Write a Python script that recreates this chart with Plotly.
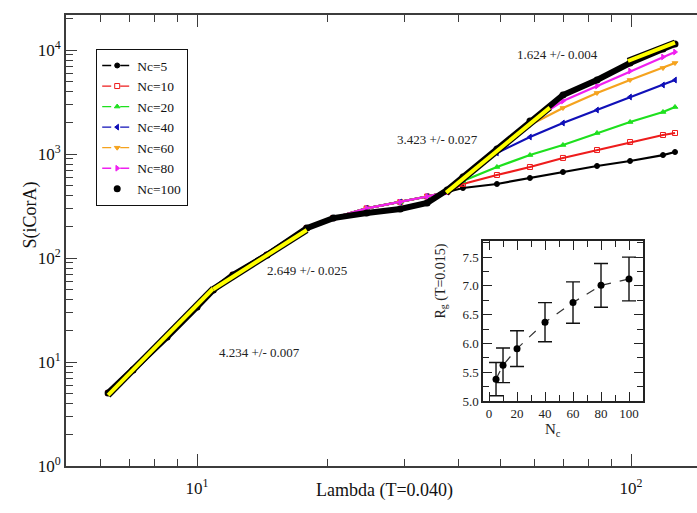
import numpy as np
import plotly.graph_objects as go

# ---------------- S(iCorA) versus Lambda at T = 0.040 ----------------
# Low-Lambda branch shared by every chain count
trunk_lambda = [6.24, 7.12, 8.53, 10.0, 10.9, 12.1, 14.5, 17.9, 20.6]
trunk_s = [5.03, 8.38, 17.4, 33.8, 49.3, 68.7, 107, 194, 242]

# Intermediate plateau (Nc = 5 ... 80 and Nc = 100)
plateau_lambda = [24.6, 29.4, 33.9, 37.7]
plateau_s = [300, 345, 390, 431]
plateau_s_nc100 = [271, 296, 338, 451]

# High-Lambda branches, one per chain count
tail_lambda = [41.0, 49.1, 58.5, 69.7, 83.5, 99.5, 118.5, 126.3]
tail_s_nc5 = [471, 515, 588, 671, 767, 857, 977, 1045]
tail_s_nc10 = [515, 628, 750, 916, 1092, 1304, 1523, 1592]
tail_s_nc20 = [550, 750, 977, 1221, 1592, 2031, 2535, 2831]
tail_s_nc40 = [575, 1023, 1457, 1986, 2649, 3532, 4608, 5148]
tail_s_nc60 = [588, 1080, 1901, 2770, 3863, 5148, 6714, 7499]
tail_s_nc80 = [601, 1100, 2031, 3235, 4508, 6281, 8570, 9570]
tail_s_nc100 = [601, 1117, 2077, 3690, 5148, 7499, 10230, 11420]

series_names = ["Nc=5", "Nc=10", "Nc=20", "Nc=40", "Nc=60", "Nc=80", "Nc=100"]
series_colors = ["#000000", "#ee1c1c", "#1ee01e", "#1010b8", "#f5a31e", "#f020f0", "#000000"]
series_symbols = ["circle", "square-open", "triangle-up", "triangle-left",
                  "triangle-down", "triangle-right", "circle"]
series_tails = [tail_s_nc5, tail_s_nc10, tail_s_nc20, tail_s_nc40,
                tail_s_nc60, tail_s_nc80, tail_s_nc100]

# Power-law fits: exponent, error, Lambda interval, S at the interval start
fit_slopes = [4.234, 2.649, 3.423, 1.624]
fit_errors = [0.007, 0.025, 0.027, 0.004]
fit_lambda_lo = [6.24, 10.9, 37.5, 98.4]
fit_lambda_hi = [10.9, 17.9, 65.0, 126.3]
fit_s_lo = [4.8, 50.0, 425.0, 7840.0]
fit_label_pos = [(217, 362), (307, 270), (437, 130), (600, 45)]  # pixel centres

# ---------------- Inset: Rg versus Nc at T = 0.015 ----------------
inset_nc = [5, 10, 20, 40, 60, 80, 100]
inset_rg = [5.38, 5.62, 5.91, 6.37, 6.71, 7.01, 7.12]
inset_rg_err = [0.29, 0.30, 0.31, 0.34, 0.36, 0.38, 0.38]

# ---------------- geometry ----------------
W, H = 697, 513
L, R, T, B = 66, 697, 15, 466          # main plot frame in pixels
SERIF = "Liberation Serif"
AXC = "#3c3c3c"


def px(xp):
    return (xp - L) / (R - L)


def py(yp):
    return (B - yp) / (B - T)


fig = go.Figure()

for i, name in enumerate(series_names):
    xs = trunk_lambda + plateau_lambda + tail_lambda
    if name == "Nc=100":
        ys = trunk_s + plateau_s_nc100 + series_tails[i]
        fig.add_trace(go.Scatter(
            x=xs, y=ys, mode="lines+markers", showlegend=False,
            line=dict(color="#000000", width=6),
            marker=dict(symbol="circle", size=7, color="#000000"),
            hoverinfo="skip"))
    else:
        ys = trunk_s + plateau_s + series_tails[i]
        fig.add_trace(go.Scatter(
            x=xs, y=ys, mode="lines+markers", showlegend=False,
            line=dict(color=series_colors[i], width=2.2),
            marker=dict(symbol=series_symbols[i], size=5, color=series_colors[i],
                        line=dict(color=series_colors[i], width=1)),
            hoverinfo="skip"))

# legend entries
for i, name in enumerate(series_names):
    if name == "Nc=100":
        fig.add_trace(go.Scatter(
            x=[None], y=[None], mode="markers", name=name,
            marker=dict(symbol="circle", size=7, color="#000000")))
    else:
        fig.add_trace(go.Scatter(
            x=[None], y=[None], mode="lines+markers", name=name,
            line=dict(color=series_colors[i], width=1.3, dash="dash"),
            marker=dict(symbol=series_symbols[i], size=5, color=series_colors[i],
                        line=dict(color=series_colors[i], width=1))))

# fitted power laws (yellow with black rim)
for k in range(len(fit_slopes)):
    fx = np.array([fit_lambda_lo[k], fit_lambda_hi[k]])
    fy = fit_s_lo[k] * (fx / fit_lambda_lo[k]) ** fit_slopes[k]
    fig.add_trace(go.Scatter(x=fx, y=fy, mode="lines", showlegend=False,
                             line=dict(color="#000000", width=6.5), hoverinfo="skip"))
    fig.add_trace(go.Scatter(x=fx, y=fy, mode="lines", showlegend=False,
                             line=dict(color="#ffff00", width=4), hoverinfo="skip"))
    xp, yp = fit_label_pos[k]
    fig.add_annotation(x=px(xp), y=py(yp), xref="paper", yref="paper",
                       text=f"{fit_slopes[k]:.3f} +/- {fit_errors[k]:.3f}",
                       showarrow=False, font=dict(family=SERIF, size=13, color="#222222"))

# inset
fig.add_trace(go.Scatter(
    x=inset_nc, y=inset_rg, xaxis="x2", yaxis="y2", mode="lines+markers",
    showlegend=False,
    line=dict(color="#333333", width=1.2, dash="dash"),
    marker=dict(symbol="circle", size=7, color="#000000"),
    error_y=dict(type="data", array=inset_rg_err, color="#111111",
                 thickness=1.4, width=7),
    hoverinfo="skip"))

maj_x = [10, 100]
min_x = [5, 6, 7, 8, 9, 20, 30, 40, 50, 60, 70, 80, 90, 200]
maj_y = [1, 10, 100, 1000, 10000]
min_y = [m * 10 ** d for d in range(5) for m in range(2, 10) if m * 10 ** d < 22000]

fig.update_layout(
    width=W, height=H,
    margin=dict(l=L, r=W - R, t=T, b=H - B),
    paper_bgcolor="white", plot_bgcolor="white",
    font=dict(family=SERIF, color="#111111"),
    xaxis=dict(
        type="log", range=[np.log10(10) - (197 - L) / 434, 1 + (R - 197) / 434],
        showgrid=False, zeroline=False,
        showline=True, linecolor=AXC, linewidth=1.6, mirror="allticks",
        ticks="inside", ticklen=12, tickwidth=1.3, tickcolor=AXC,
        tickmode="array", tickvals=maj_x,
        ticktext=["10<sup>1</sup>", "10<sup>2</sup>"],
        tickfont=dict(family=SERIF, size=17, color="#111111"),
        ticklabelstandoff=6,
        minor=dict(ticks="inside", ticklen=7, tickwidth=1.2, tickcolor=AXC,
                   tickmode="array", tickvals=min_x, showgrid=False),
    ),
    yaxis=dict(
        type="log", range=[0, (B - T) / 104],
        showgrid=False, zeroline=False,
        showline=True, linecolor=AXC, linewidth=1.6,
        ticks="inside", ticklen=11, tickwidth=1.3, tickcolor=AXC,
        tickmode="array", tickvals=maj_y,
        ticktext=["10<sup>%d</sup>" % d for d in range(5)],
        tickfont=dict(family=SERIF, size=17, color="#111111"),
        minor=dict(ticks="inside", ticklen=7, tickwidth=1.2, tickcolor=AXC,
                   tickmode="array", tickvals=min_y, showgrid=False),
    ),
    yaxis3=dict(
        type="log", range=[0, (B - T) / 104], overlaying="y", side="right",
        anchor="x", showgrid=False, zeroline=False, showline=False,
        ticks="inside", ticklen=5, tickwidth=1.3, tickcolor=AXC,
        tickmode="array", tickvals=maj_y, showticklabels=False,
    ),
    xaxis2=dict(
        domain=[px(483), px(643)], anchor="y2", range=[-4.3, 110],
        showgrid=False, zeroline=False,
        showline=True, linecolor="#222222", linewidth=1.5, mirror="allticks",
        ticks="inside", ticklen=9, tickwidth=1.3, tickcolor="#222222",
        tickmode="array", tickvals=[0, 20, 40, 60, 80, 100],
        tickfont=dict(family=SERIF, size=13, color="#222222"),
        minor=dict(ticks="inside", ticklen=6, tickwidth=1.2, tickcolor="#222222",
                   tickmode="array", tickvals=[10, 30, 50, 70, 90], showgrid=False),
    ),
    yaxis2=dict(
        domain=[py(401), py(241)], anchor="x2", range=[5.0, 7.78],
        showgrid=False, zeroline=False,
        showline=True, linecolor="#222222", linewidth=1.5, mirror="allticks",
        ticks="inside", ticklen=9, tickwidth=1.3, tickcolor="#222222",
        tickmode="array", tickvals=[5.0, 5.5, 6.0, 6.5, 7.0, 7.5],
        ticktext=["5.0", "5.5", "6.0", "6.5", "7.0", "7.5"],
        tickfont=dict(family=SERIF, size=13, color="#222222"),
        minor=dict(ticks="inside", ticklen=6, tickwidth=1.2, tickcolor="#222222",
                   tickmode="array", tickvals=[5.25, 5.75, 6.25, 6.75, 7.25, 7.75],
                   showgrid=False),
    ),
    legend=dict(
        x=px(96), y=py(49), xanchor="left", yanchor="top",
        bgcolor="white", bordercolor="#111111", borderwidth=1.2,
        font=dict(family=SERIF, size=13.5, color="#111111"),
        tracegroupgap=0,
    ),
)

# axis titles
fig.add_annotation(x=px(385), y=py(503), xref="paper", yref="paper",
                   text="Lambda (T=0.040)", showarrow=False,
                   font=dict(family=SERIF, size=18, color="#111111"))
fig.add_annotation(x=px(17), y=py(215), xref="paper", yref="paper",
                   text="S(iCorA)", showarrow=False, textangle=-90,
                   font=dict(family=SERIF, size=18, color="#111111"))
fig.add_annotation(x=px(563), y=py(441), xref="paper", yref="paper",
                   text="N<sub>c</sub>", showarrow=False,
                   font=dict(family=SERIF, size=15, color="#222222"))
fig.add_annotation(x=px(441), y=py(321), xref="paper", yref="paper",
                   text="R<sub>g</sub> (T=0.015)", showarrow=False, textangle=-90,
                   font=dict(family=SERIF, size=14, color="#222222"))

fig.write_html("out.html")
